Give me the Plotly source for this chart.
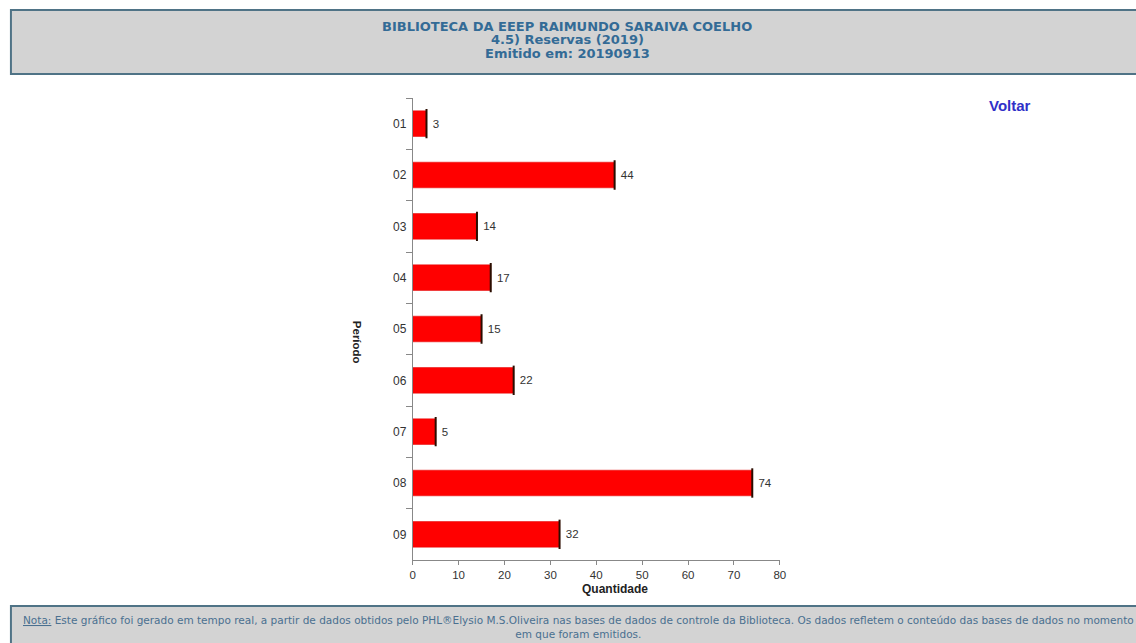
import plotly.graph_objects as go

# Monthly reservations (2019)
periodos = ["01", "02", "03", "04", "05", "06", "07", "08", "09"]
quantidade = [3, 44, 14, 17, 15, 22, 5, 74, 32]
x_ticks = [0, 10, 20, 30, 40, 50, 60, 70, 80]

titulo = ["BIBLIOTECA DA EEEP RAIMUNDO SARAIVA COELHO",
          "4.5) Reservas (2019)",
          "Emitido em: 20190913"]
nota = ("<u>Nota:</u> Este gráfico foi gerado em tempo real, a partir de dados obtidos pelo "
        "PHL®Elysio M.S.Oliveira nas bases de dados de controle da Biblioteca. Os dados refletem "
        "o conteúdo das bases de dados no momento<br>em que foram emitidos.")

W, H = 1136, 643
FONT = "Liberation Sans, Arial, sans-serif"
WIDE = "DejaVu Sans, Verdana, sans-serif"


def px(x):
    return x / W


def py(y):
    return 1 - y / H


fig = go.Figure()

fig.add_trace(go.Bar(
    x=quantidade, y=periodos, orientation="h",
    marker=dict(color="#ff0000", line=dict(color="#e00000", width=0.5)),
    text=quantidade, texttemplate="\u00a0%{text}", textposition="outside",
    textfont=dict(family=FONT, size=11.5, color="#333333"),
    cliponaxis=False, hoverinfo="x+y",
))

# dark edge at the end of each bar
fig.add_trace(go.Scatter(
    x=quantidade, y=periodos, mode="markers",
    marker=dict(symbol="line-ns", size=21, line=dict(color="#2a0d00", width=2)),
    hoverinfo="skip", showlegend=False,
))

annotations = [
    dict(text=f"<b>{line}</b>", xref="paper", yref="paper", x=px(569), y=py(yy),
         xanchor="center", yanchor="middle", showarrow=False,
         font=dict(family=WIDE, size=13, color="#336b96"))
    for line, yy in zip(titulo, [27, 40, 53])
]
annotations += [
    dict(text="<b>Voltar</b>", xref="paper", yref="paper", x=px(1015), y=py(105),
         xanchor="center", yanchor="middle", showarrow=False,
         font=dict(family=FONT, size=15, color="#3030c8")),
    dict(text="<b>Período</b>", xref="paper", yref="paper", x=px(357), y=py(342),
         xanchor="center", yanchor="middle", showarrow=False, textangle=90,
         font=dict(family=FONT, size=11.5, color="#222222")),
    dict(text="<b>Quantidade</b>", xref="paper", yref="paper", x=px(617), y=py(589),
         xanchor="center", yanchor="middle", showarrow=False,
         font=dict(family=FONT, size=12, color="#222222")),
    dict(text=nota, xref="paper", yref="paper", x=px(580), y=py(627),
         xanchor="center", yanchor="middle", showarrow=False,
         font=dict(family=WIDE, size=10.5, color="#4a7090")),
]

fig.update_layout(
    width=W, height=H,
    margin=dict(l=0, r=0, t=0, b=0),
    paper_bgcolor="white", plot_bgcolor="white",
    showlegend=False, bargap=0.5,
    font=dict(family=FONT, size=11, color="#444444"),
    xaxis=dict(
        domain=[px(413), px(783)], range=[0, 80],
        tickvals=x_ticks, ticks="outside", ticklen=4, tickcolor="#888888",
        showline=True, linecolor="#888888", linewidth=1, showgrid=False, zeroline=False,
        tickfont=dict(family=FONT, size=11.5, color="#333333"),
        ticklabelstandoff=0,
        fixedrange=True,
    ),
    yaxis=dict(
        domain=[py(560), py(98)], range=[8.5, -0.5],
        categoryorder="array", categoryarray=periodos,
        ticks="outside", tickson="boundaries", ticklen=6, tickcolor="#888888",
        showline=True, linecolor="#888888", linewidth=1, showgrid=False,
        tickfont=dict(family=FONT, size=12, color="#333333"),
        ticklabelstandoff=3,
        fixedrange=True,
    ),
    shapes=[
        dict(type="rect", xref="paper", yref="paper",
             x0=px(8), x1=px(1200), y0=py(74), y1=py(10),
             fillcolor="#d3d3d3", line=dict(color="#4f7386", width=2), layer="below"),
        dict(type="rect", xref="paper", yref="paper",
             x0=px(8), x1=px(1200), y0=py(660), y1=py(606),
             fillcolor="#d3d3d3", line=dict(color="#4f7386", width=2), layer="below"),
    ],
    annotations=annotations,
)

fig.write_html("out.html")
